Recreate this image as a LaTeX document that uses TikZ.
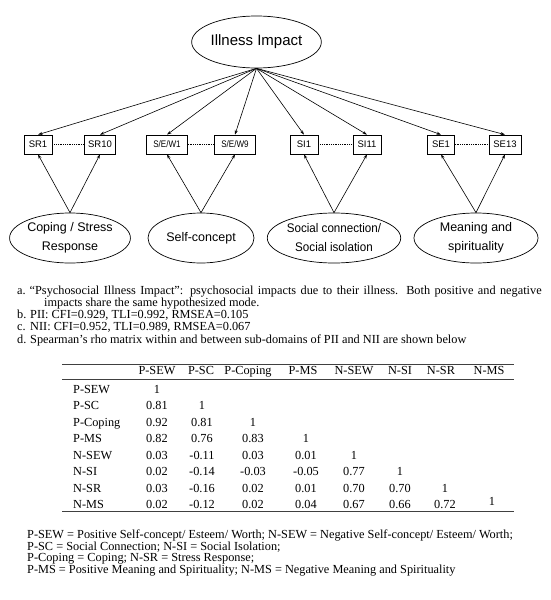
\documentclass[tikz,border=0pt]{standalone}
\usepackage{fontspec}
\setmainfont{Liberation Serif}
\newfontfamily\arialf{Liberation Sans}
\usetikzlibrary{shapes.geometric,arrows.meta}
\begin{document}
\begin{tikzpicture}[x=1pt,y=-1pt,
  latent/.style={draw,ellipse,line width=0.7pt,inner sep=0pt,align=center,font=\arialf\fontsize{12.5}{19}\selectfont},
  ind/.style={draw,rectangle,line width=0.7pt,minimum height=19pt,inner sep=0pt,font=\arialf\fontsize{9.5}{11}\selectfont},
  load/.style={-{Stealth[length=4.5pt,width=3pt]},line width=0.6pt},
  cov/.style={densely dotted,line width=0.8pt},
  txt/.style={inner sep=0pt,font=\fontsize{12.3}{12}\selectfont},
  rule/.style={line width=0.8pt,black!75}
]
\useasboundingbox (0,0) rectangle (551,600);
% top latent
\node[latent,minimum width=123pt,minimum height=52pt,font=\arialf\fontsize{15}{18}\selectfont] (II) at (256.5,42) {Illness Impact};
% indicators
\node[ind,minimum width=28pt] (sr1) at (38,144.5) {SR1};
\node[ind,minimum width=31pt] (sr10) at (100,144.5) {SR10};
\node[ind,minimum width=41pt] (sew1) at (167,144.5) {\scalebox{0.85}[1]{S/E/W1}};
\node[ind,minimum width=41pt] (sew9) at (235,144.5) {\scalebox{0.85}[1]{S/E/W9}};
\node[ind,minimum width=28pt] (si1) at (304,144.5) {SI1};
\node[ind,minimum width=28pt] (si11) at (367,144.5) {SI11};
\node[ind,minimum width=27pt] (se1) at (441,144.5) {SE1};
\node[ind,minimum width=32pt] (se13) at (505,144.5) {SE13};
% dotted links
\draw[cov] (sr1) -- (sr10);
\draw[cov] (sew1) -- (sew9);
\draw[cov] (si1) -- (si11);
\draw[cov] (se1) -- (se13);
% loadings from top
\foreach \b in {sr1,sr10,sew1,sew9,si1,si11,se1,se13}
  \draw[load] (II.south) -- (\b.north);
% bottom latents
\node[latent,minimum width=105pt,minimum height=50pt] (cs) at (70,238) {Coping / Stress\\Response};
\node[latent,minimum width=106pt,minimum height=50pt] (sc) at (201,238) {Self-concept};
\node[latent,minimum width=104pt,minimum height=50pt] (sn) at (334,238) {\scalebox{0.93}[1]{Social connection/}\\\scalebox{0.93}[1]{Social isolation}};
\node[latent,minimum width=124pt,minimum height=50pt] (ms) at (476,238) {Meaning and\\spirituality};
\draw[load] (cs.north) -- (sr1.south);
\draw[load] (cs.north) -- (sr10.south);
\draw[load] (sc.north) -- (sew1.south);
\draw[load] (sc.north) -- (sew9.south);
\draw[load] (sn.north) -- (si1.south);
\draw[load] (sn.north) -- (si11.south);
\draw[load] (ms.north) -- (se1.south);
\draw[load] (ms.north) -- (se13.south);
% notes
\node[txt,anchor=mid west] (na) at (17,292) {a.};
\node[txt,anchor=mid west] (ta) at (29.5,292) {\makebox[512pt][s]{“Psychosocial Illness Impact”: psychosocial impacts due to their illness. Both positive and negative}};
\node[txt,anchor=mid west] (ta2) at (44,304.2) {impacts share the same hypothesized mode.};
\node[txt,anchor=mid west] (nb) at (17,316.4) {b.};
\node[txt,anchor=mid west] (tb) at (30,316.4) {PII: CFI=0.929, TLI=0.992, RMSEA=0.105};
\node[txt,anchor=mid west] (nc) at (17,328.6) {c.};
\node[txt,anchor=mid west] (tc) at (30,328.6) {NII: CFI=0.952, TLI=0.989, RMSEA=0.067};
\node[txt,anchor=mid west] (nd) at (17,340.8) {d.};
\node[txt,anchor=mid west] (td) at (30,340.8) {Spearman’s rho matrix within and between sub-domains of PII and NII are shown below};
% table rules
\coordinate (t1l) at (62,364); \coordinate (t1r) at (514,364);
\coordinate (t2l) at (62,379); \coordinate (t2r) at (514,379);
\coordinate (t3l) at (62,511.5); \coordinate (t3r) at (514,511.5);
\draw[rule] (t1l) -- (t1r);
\draw[rule] (t2l) -- (t2r);
\draw[rule] (t3l) -- (t3r);
% header
\foreach \x/\h [count=\i] in {157/P-SEW,201/P-SC,248/P-Coping,303/P-MS,354/N-SEW,400/N-SI,441/N-SR,489/N-MS}
  \node[txt,anchor=mid] (h\i) at (\x,372) {\h};
% row labels
\foreach \y/\l [count=\i] in {391/P-SEW,407.5/P-SC,424/P-Coping,440.5/P-MS,457/N-SEW,473.5/N-SI,490/N-SR,506.5/N-MS}
  \node[txt,anchor=mid west] (r\i) at (73,\y) {\l};
% values
\foreach \r/\c/\v in {
  1/1/1,
  2/1/0.81, 2/2/1,
  3/1/0.92, 3/2/0.81, 3/3/1,
  4/1/0.82, 4/2/0.76, 4/3/0.83, 4/4/1,
  5/1/0.03, 5/2/-0.11, 5/3/0.03, 5/4/0.01, 5/5/1,
  6/1/0.02, 6/2/-0.14, 6/3/-0.03, 6/4/-0.05, 6/5/0.77, 6/6/1,
  7/1/0.03, 7/2/-0.16, 7/3/0.02, 7/4/0.01, 7/5/0.70, 7/6/0.70, 7/7/1,
  8/1/0.02, 8/2/-0.12, 8/3/0.02, 8/4/0.04, 8/5/0.67, 8/6/0.66, 8/7/0.72}
{
  \pgfmathsetmacro{\vx}{{157,202,253,306,354,400,445,492}[\c-1]}
  \pgfmathsetmacro{\vy}{{391,407.5,424,440.5,457,473.5,490,506.5}[\r-1]}
  \node[txt,anchor=mid] (v\r-\c) at (\vx,\vy) {\v};
}
\node[txt,anchor=mid] (v8-8) at (492,503) {1};
% legend
\node[txt,anchor=mid west] (f1) at (27,536) {P-SEW = Positive Self-concept/ Esteem/ Worth; N-SEW = Negative Self-concept/ Esteem/ Worth;};
\node[txt,anchor=mid west] (f2) at (27,547.7) {P-SC = Social Connection; N-SI = Social Isolation;};
\node[txt,anchor=mid west] (f3) at (27,559.4) {P-Coping = Coping; N-SR = Stress Response;};
\node[txt,anchor=mid west] (f4) at (27,571) {P-MS = Positive Meaning and Spirituality; N-MS = Negative Meaning and Spirituality};
\end{tikzpicture}
\end{document}
